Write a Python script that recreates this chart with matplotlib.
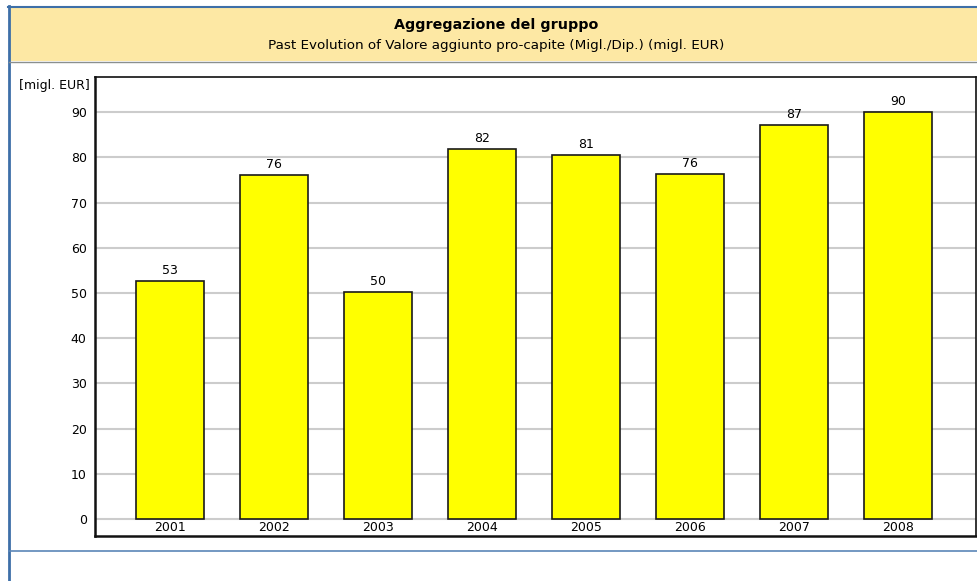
import matplotlib
matplotlib.use("Agg")
import matplotlib.pyplot as plt
from matplotlib.patches import Rectangle
from matplotlib.lines import Line2D

years = ["2001", "2002", "2003", "2004", "2005", "2006", "2007", "2008"]
values = [52.7, 76.1, 50.2, 81.9, 80.6, 76.4, 87.2, 90.0]
yticks = [0, 10, 20, 30, 40, 50, 60, 70, 80, 90]

title = "Aggregazione del gruppo"
subtitle = "Past Evolution of Valore aggiunto pro-capite (Migl./Dip.) (migl. EUR)"
unit = "[migl. EUR]"

plt.rcParams["font.family"] = ["DejaVu Sans"]

W, H = 978, 581
fig = plt.figure(figsize=(W / 100, H / 100), dpi=100)
fig.patch.set_facecolor("white")

def fx(px):
    return px / W

def fy(py):
    return 1 - py / H

# header band and frame lines
fig.patches.append(Rectangle((fx(9), fy(61)), fx(W - 9), (61 - 7) / H,
                             transform=fig.transFigure, facecolor="#fde8a4",
                             edgecolor="none", zorder=0))
border = "#3d6fa8"
fig.lines.append(Line2D([fx(8.5), fx(8.5)], [fy(6), fy(H)], transform=fig.transFigure,
                        color=border, lw=2))
fig.lines.append(Line2D([fx(8), 1], [fy(6.5), fy(6.5)], transform=fig.transFigure,
                        color=border, lw=1.5))
fig.lines.append(Line2D([fx(9), 1], [fy(61.5), fy(61.5)], transform=fig.transFigure,
                        color="#8a8f8f", lw=1))
fig.lines.append(Line2D([fx(9), 1], [fy(551), fy(551)], transform=fig.transFigure,
                        color="#5b86b8", lw=1.2))

fig.text(0.5 + fx(7), fy(25), title, ha="center", va="center",
         fontsize=10.3, fontweight="bold", color="black")
fig.text(0.5 + fx(7), fy(45), subtitle, ha="center", va="center",
         fontsize=9.7, color="black")
fig.text(fx(90), fy(86), unit, ha="right", va="center", fontsize=9, color="black")

# plot area
ax = fig.add_axes([fx(95), fy(536), fx(976 - 95), (536 - 77) / H])
x = list(range(len(years)))
ax.bar(x, values, width=0.654, color="#ffff00", edgecolor="#1a1a1a",
       linewidth=1.2, zorder=3)

for xi, v in zip(x, values):
    ax.text(xi, v + 0.9, f"{round(v):d}", ha="center", va="bottom",
            fontsize=9, color="black", zorder=4)
    ax.text(xi, -0.5, years[xi], ha="center", va="top",
            fontsize=9, color="black", zorder=4)

ax.set_xlim(-0.72, 7.75)
ax.set_ylim(-3.76, 97.8)
ax.set_yticks(yticks)
ax.set_yticklabels([str(t) for t in yticks], fontsize=9)
ax.set_xticks([])
ax.tick_params(axis="y", length=0, pad=6)
ax.yaxis.grid(True, color="#cccccc", linewidth=1.5, zorder=0)
ax.set_axisbelow(True)

for side in ["left", "bottom"]:
    ax.spines[side].set_linewidth(1.8)
for side in ["top", "right"]:
    ax.spines[side].set_linewidth(1.2)
for s in ax.spines.values():
    s.set_color("#111111")

fig.savefig("out.png", dpi=100)
